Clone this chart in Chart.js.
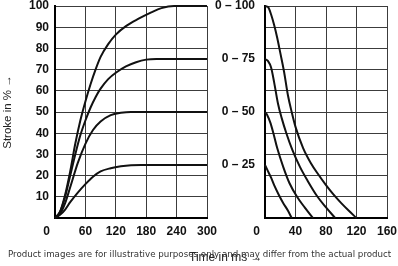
<!DOCTYPE html>
<html>
<head>
<meta charset="utf-8">
<script src="https://cdn.jsdelivr.net/npm/chart.js@4.4.1/dist/chart.umd.min.js"></script>
<style>
  html, body { margin: 0; padding: 0; background: #fff; }
  #page { position: relative; width: 398px; height: 266px; overflow: hidden; }
  canvas { position: absolute; }
  #left { left: 0; top: 0; }
  #right { left: 200px; top: 0; }
  .txt { position: absolute; white-space: nowrap; font-family: "Liberation Sans", Arial, sans-serif; }
  #xtitle { left: 189px; top: 250px; font-size: 12px; color: #222; }
  #note { left: 8px; top: 249px; font-family: "DejaVu Sans", sans-serif; font-size: 8.7px; color: #333; }
</style>
</head>
<body>
<div id="page">
  <canvas id="left" width="220" height="266"></canvas>
  <canvas id="right" width="198" height="266"></canvas>
  <div id="xtitle" class="txt">Time in ms →</div>
  <div id="note" class="txt">Product images are for illustrative purposes only and may differ from the actual product</div>
</div>
<script>
  // --- data ---
  // left chart: stroke building up over time
  const rise100Time = [0, 10, 20, 30, 40, 50, 60, 70, 80, 90, 105, 120, 140, 165, 190, 210, 235, 300];
  const rise100Val  = [0, 3, 11, 22, 35, 46, 55, 63, 70, 76, 82, 86.5, 90.5, 94, 97, 99, 100, 100];
  const rise75Time  = [0, 10, 20, 30, 40, 50, 60, 70, 80, 90, 105, 120, 140, 160, 180, 200, 300];
  const rise75Val   = [0, 3, 10, 20, 30, 39, 46, 52, 57, 61, 65.5, 68.5, 71.5, 73.5, 74.7, 75, 75];
  const rise50Time  = [0, 10, 20, 30, 45, 60, 75, 90, 110, 130, 150, 300];
  const rise50Val   = [0, 2, 7, 14.5, 26, 35, 41.5, 45.5, 48.5, 49.6, 50, 50];
  const rise25Time  = [0, 10, 20, 30, 45, 60, 75, 90, 110, 130, 150, 170, 300];
  const rise25Val   = [0, 1.5, 4, 7.5, 12, 16, 19.5, 22, 23.5, 24.4, 24.9, 25, 25];

  // right chart: stroke falling back
  const fall100Time = [0, 4, 8, 12, 16, 20, 25, 30, 35, 40, 50, 60, 70, 80, 90, 100, 110, 120];
  const fall100Val  = [100, 99.5, 96, 91, 85, 78, 69, 58, 50, 43, 33, 26, 20.5, 15.5, 11, 7, 3.4, 0];
  const fall75Time  = [0, 4, 8, 12, 17, 22, 28, 36, 46, 56, 68, 80, 92];
  const fall75Val   = [75, 74, 71, 64, 54, 47, 40, 32, 24, 17.5, 10.5, 5, 0];
  const fall50Time  = [0, 3, 7, 11, 16, 24, 32, 42, 52, 63];
  const fall50Val   = [50, 48.5, 45, 40, 33, 24, 16.5, 10, 5, 0];
  const fall25Time  = [0, 4, 8, 12, 18, 24, 30, 35];
  const fall25Val   = [25, 22, 19, 15.5, 11, 7, 3.5, 0];

  // axes
  const leftXTicks = [0, 60, 120, 180, 240, 300];
  const rightXTicks = [0, 40, 80, 120, 160];
  const strokeTicks = [0, 10, 20, 30, 40, 50, 60, 70, 80, 90, 100];
  const rangeValues = [25, 50, 75, 100];
  const rangeLabels = ['0 – 25', '0 – 50', '0 – 75', '0 – 100'];

  const tickFont = { family: '"Liberation Sans", Arial, sans-serif', size: 12, weight: 'bold' };
  const gridColor = '#3c3c3c';
  const zeroLabel = '0\u00a0\u00a0\u00a0\u00a0\u00a0'; // "0" sits left of the corner

  function pts(t, v) {
    return t.map((x, i) => ({ x: x, y: v[i] }));
  }

  function curve(t, v) {
    return {
      data: pts(t, v),
      showLine: true,
      borderColor: '#111',
      borderWidth: 2,
      pointRadius: 0,
      cubicInterpolationMode: 'monotone',
      clip: false
    };
  }

  function fixedTicks(values) {
    return function(scale) {
      scale.ticks = values.map(v => ({ value: v }));
    };
  }

  // keep the plot box where the layout padding puts it
  function fitX(scale) {
    scale.height = 48;
    scale.paddingLeft = 0;
    scale.paddingRight = 0;
  }
  function fitY(w) {
    return function(scale) {
      scale.width = w;
      scale.paddingTop = 0;
      scale.paddingBottom = 0;
    };
  }

  // --- left chart ---
  new Chart(document.getElementById('left'), {
    type: 'scatter',
    data: {
      datasets: [
        curve(rise100Time, rise100Val),
        curve(rise75Time, rise75Val),
        curve(rise50Time, rise50Val),
        curve(rise25Time, rise25Val)
      ]
    },
    options: {
      responsive: false,
      animation: false,
      layout: { padding: { top: 6, right: 13, bottom: 0, left: 0 } },
      plugins: { legend: { display: false }, tooltip: { enabled: false } },
      scales: {
        x: {
          type: 'linear', min: 0, max: 300,
          afterBuildTicks: fixedTicks(leftXTicks),
          afterFit: fitX,
          grid: { color: gridColor, lineWidth: 1, drawTicks: false },
          border: { color: '#000', width: 2 },
          ticks: {
            font: tickFont, color: '#111', padding: 6, maxRotation: 0, autoSkip: false,
            callback: v => v === 0 ? zeroLabel : String(v)
          }
        },
        y: {
          type: 'linear', min: 0, max: 100,
          afterBuildTicks: fixedTicks(strokeTicks),
          afterFit: fitY(55),
          grid: { color: gridColor, lineWidth: 1, drawTicks: false },
          border: { color: '#000', width: 2 },
          title: {
            display: true, text: 'Stroke in % →', color: '#222',
            font: { family: '"Liberation Sans", Arial, sans-serif', size: 11.5 },
            padding: { top: 1, bottom: 0 }
          },
          ticks: {
            font: tickFont, color: '#111', padding: 6, autoSkip: false,
            callback: v => v === 0 ? '' : String(v)
          }
        }
      }
    }
  });

  // --- right chart ---
  const rightYTicks = strokeTicks.concat([25, 75]).sort((a, b) => a - b);

  new Chart(document.getElementById('right'), {
    type: 'scatter',
    data: {
      datasets: [
        curve(fall100Time, fall100Val),
        curve(fall75Time, fall75Val),
        curve(fall50Time, fall50Val),
        curve(fall25Time, fall25Val)
      ]
    },
    options: {
      responsive: false,
      animation: false,
      layout: { padding: { top: 6, right: 11, bottom: 0, left: 0 } },
      plugins: { legend: { display: false }, tooltip: { enabled: false } },
      scales: {
        x: {
          type: 'linear', min: 0, max: 160,
          afterBuildTicks: fixedTicks(rightXTicks),
          afterFit: fitX,
          grid: { color: gridColor, lineWidth: 1, drawTicks: false },
          border: { color: '#000', width: 2 },
          ticks: {
            font: tickFont, color: '#111', padding: 6, maxRotation: 0, autoSkip: false,
            callback: v => v === 0 ? zeroLabel : String(v)
          }
        },
        y: {
          type: 'linear', min: 0, max: 100,
          afterBuildTicks: fixedTicks(rightYTicks),
          afterFit: fitY(65),
          grid: {
            drawTicks: false, lineWidth: 1,
            color: ctx => (ctx.tick && ctx.tick.value % 10 !== 0) ? 'rgba(0,0,0,0)' : gridColor
          },
          border: { color: '#000', width: 2 },
          ticks: {
            font: tickFont, color: '#111', padding: 10, autoSkip: false,
            callback: function(v) {
              const i = rangeValues.indexOf(v);
              return i >= 0 ? rangeLabels[i] : '';
            }
          }
        }
      }
    }
  });
</script>
</body>
</html>
